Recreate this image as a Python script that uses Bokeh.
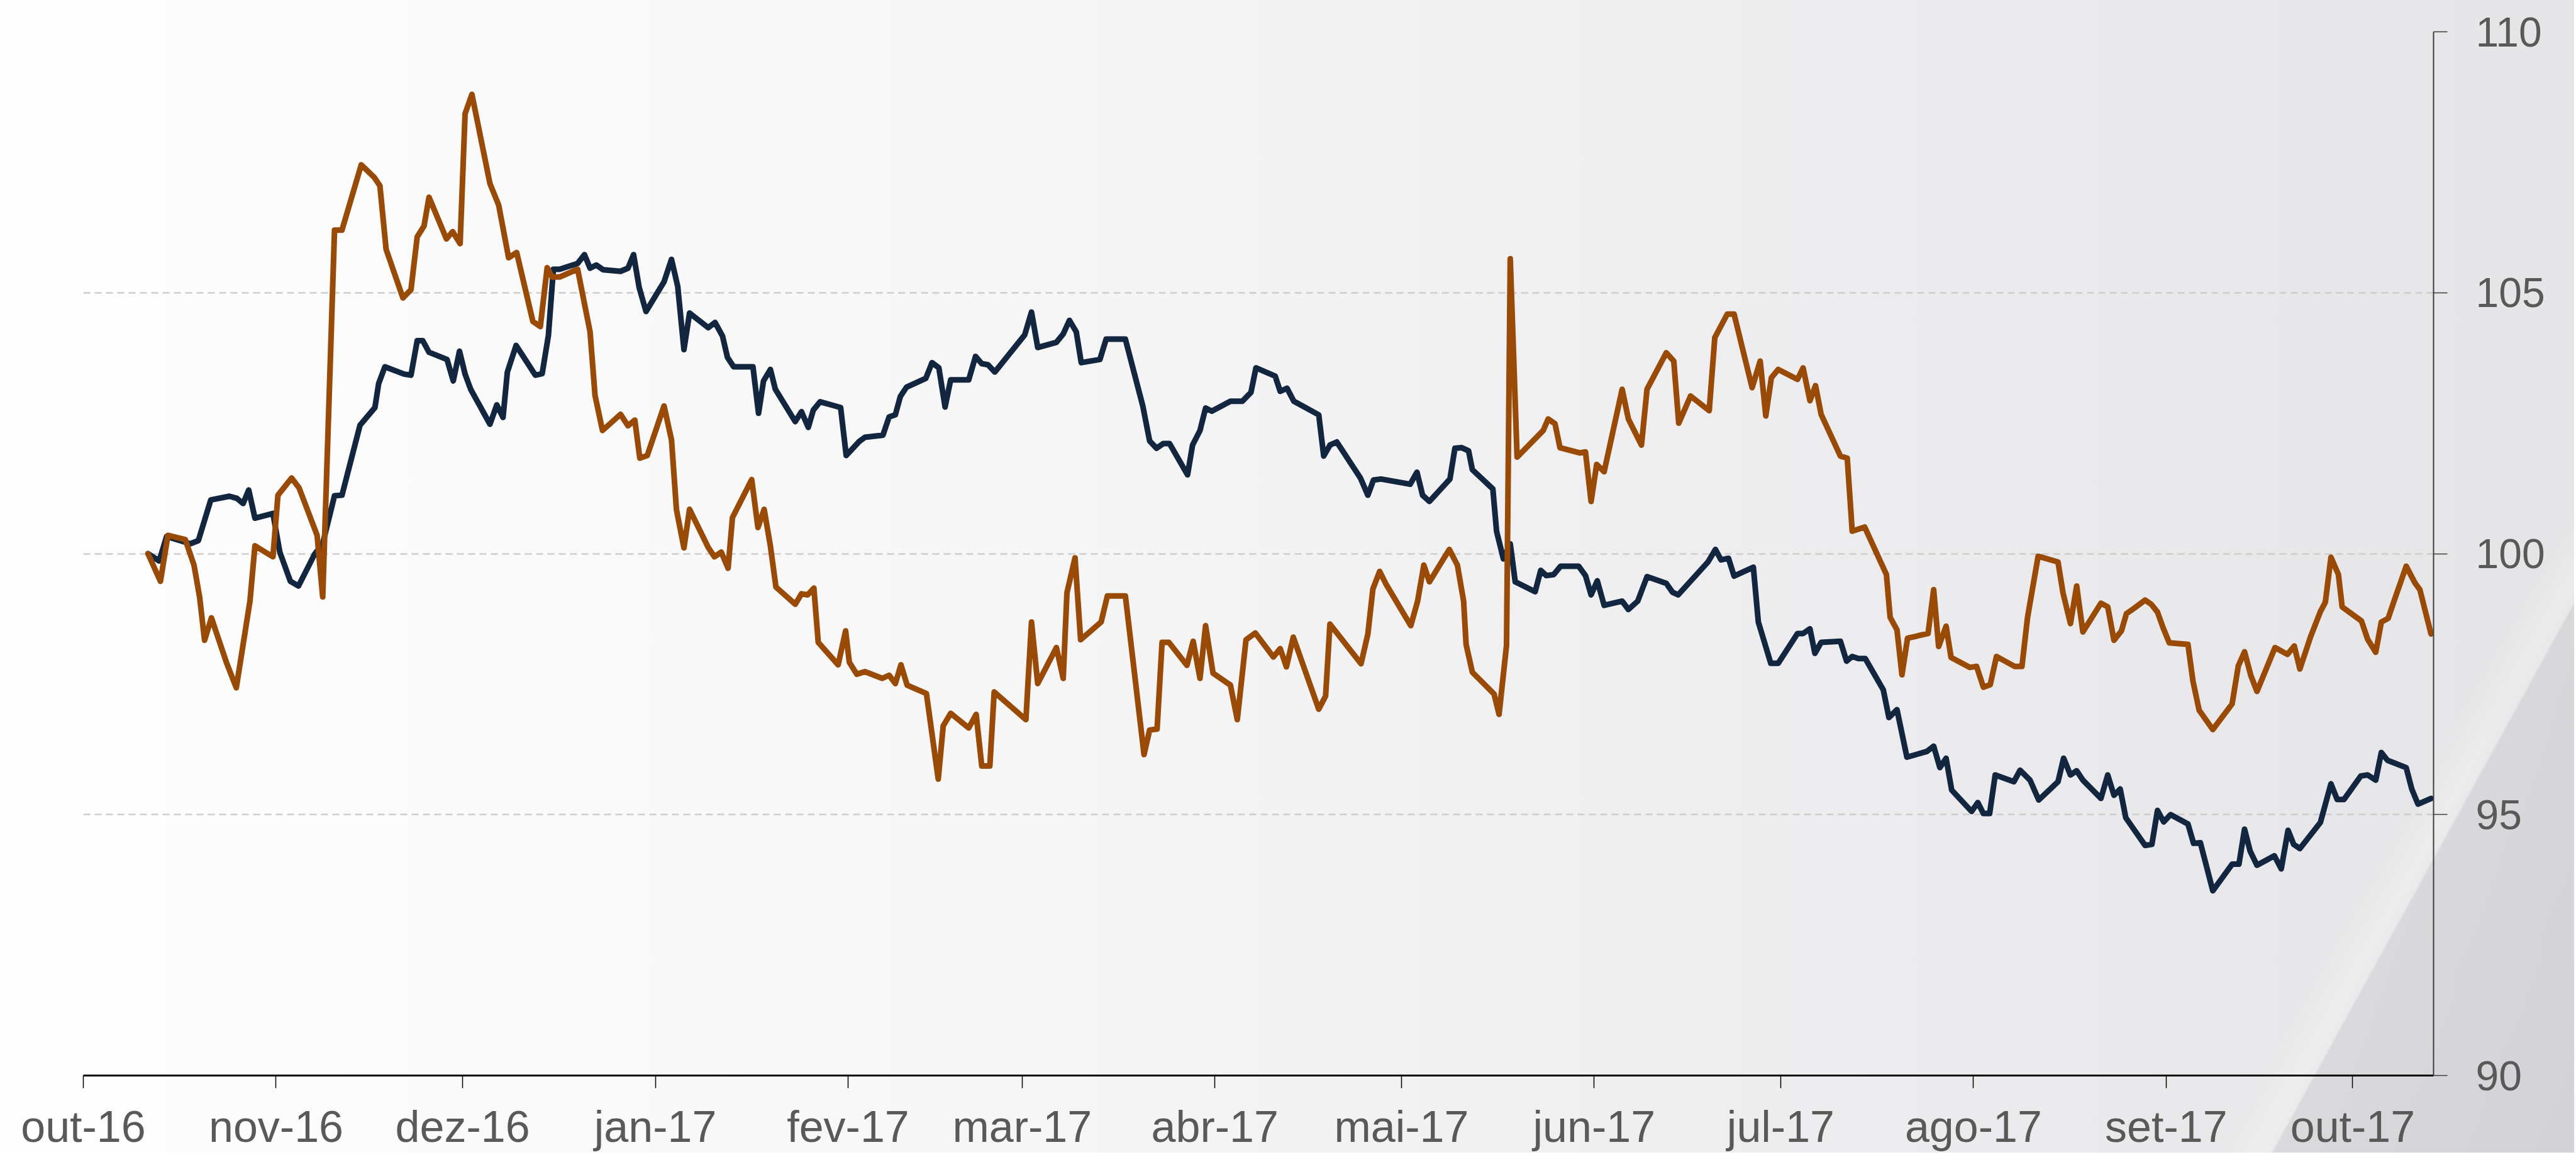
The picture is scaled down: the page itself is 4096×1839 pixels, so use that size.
import numpy as np
import pandas as pd
from bokeh.plotting import figure
from bokeh.models import Range1d, FixedTicker, ColumnDataSource
from bokeh.embed import file_html
from bokeh.resources import INLINE

# ---------------- data ----------------
BASE_DATE = "2016-10-01"   # day offsets below are counted from this date

month_starts = ["2016-10-01", "2016-11-01", "2016-12-01", "2017-01-01", "2017-02-01",
                "2017-03-01", "2017-04-01", "2017-05-01", "2017-06-01", "2017-07-01",
                "2017-08-01", "2017-09-01", "2017-10-01"]
month_labels = ["out-16", "nov-16", "dez-16", "jan-17", "fev-17", "mar-17", "abr-17",
                "mai-17", "jun-17", "jul-17", "ago-17", "set-17", "out-17"]
y_ticks = [90, 95, 100, 105, 110]

blue_days = [
    10.4, 12.2, 13.4, 17.2, 18.5, 20.5, 23.5, 24.7, 25.7, 26.6,
    27.6, 30.5, 31.6, 33.3, 34.6, 37.2, 38.5, 40.4, 41.6, 44.5,
    46.9, 47.5, 48.5, 51.6, 52.7, 53.7, 54.6, 55.6, 58.5, 59.5,
    60.5, 61.4, 62.3, 65.4, 66.5, 67.5, 68.2, 69.6, 72.7, 73.8,
    74.8, 75.6, 76.6, 79.5, 80.6, 81.5, 82.5, 83.6, 86.4, 87.6,
    88.5, 89.4, 90.5, 93.4, 94.6, 95.6, 96.6, 97.5, 100.5, 101.6,
    102.8, 103.6, 104.6, 107.7, 108.6, 109.4, 110.5, 111.3, 114.5, 115.5,
    116.6, 117.4, 118.5, 121.8, 122.7, 124.8, 125.7, 128.6, 129.6, 130.6,
    131.4, 132.4, 135.5, 136.5, 137.6, 138.6, 139.5, 142.4, 143.5, 144.5,
    145.5, 146.6, 151.4, 152.5, 153.5, 156.5, 157.6, 158.6, 159.7, 160.5,
    163.5, 164.5, 167.6, 170.4, 171.5, 172.6, 173.7, 174.7, 177.6, 178.4,
    179.6, 180.5, 181.5, 184.5, 186.4, 187.8, 188.6, 191.7, 192.5, 193.6,
    194.7, 198.7, 199.5, 200.5, 201.6, 205.4, 206.6, 207.5, 208.7, 213.4,
    214.5, 215.4, 216.5, 219.8, 220.6, 221.7, 222.8, 223.4, 226.7, 227.3,
    228.4, 229.5, 230.3, 233.5, 234.4, 235.3, 236.5, 237.6, 240.5, 241.6,
    242.5, 243.5, 244.6, 247.5, 248.5, 250.0, 251.5, 254.6, 255.6, 256.5,
    261.3, 262.5, 263.4, 264.6, 265.5, 268.6, 269.4, 271.4, 272.6, 275.7,
    276.6, 277.7, 278.5, 279.5, 282.6, 283.6, 284.5, 285.5, 286.6, 289.5,
    290.4, 291.7, 293.3, 296.5, 297.6, 298.6, 299.6, 300.5, 303.7, 304.7,
    305.6, 306.6, 307.5, 310.5, 311.5, 313.1, 314.5, 317.6, 318.5, 319.6,
    320.6, 321.6, 324.5, 325.6, 326.6, 327.6, 328.5, 331.6, 332.7, 333.6,
    334.6, 335.7, 338.5, 339.4, 340.5, 342.5, 345.6, 346.7, 347.6, 348.5,
    349.6, 352.4, 353.5, 354.6, 355.5, 356.5, 359.8, 361.5, 362.5, 363.6,
    366.3, 367.4, 368.7, 369.6, 370.6, 373.6, 374.5, 375.5, 377.6,
]
blue_values = [
    100.0, 99.86, 100.33, 100.19, 100.25, 101.03, 101.1, 101.06, 100.96, 101.22,
    100.68, 100.77, 100.03, 99.47, 99.38, 99.99, 100.19, 101.11, 101.12, 102.46,
    102.8, 103.26, 103.58, 103.44, 103.42, 104.08, 104.08, 103.86, 103.72, 103.31,
    103.88, 103.44, 103.15, 102.48, 102.85, 102.61, 103.48, 103.99, 103.42, 103.45,
    104.18, 105.45, 105.45, 105.56, 105.73, 105.47, 105.53, 105.44, 105.41, 105.47,
    105.73, 105.1, 104.64, 105.21, 105.64, 105.12, 103.91, 104.61, 104.33, 104.43,
    104.17, 103.76, 103.58, 103.58, 102.69, 103.31, 103.53, 103.15, 102.53, 102.72,
    102.42, 102.75, 102.91, 102.8, 101.88, 102.15, 102.23, 102.27, 102.62, 102.66,
    103.01, 103.19, 103.36, 103.66, 103.56, 102.81, 103.33, 103.33, 103.78, 103.64,
    103.62, 103.48, 104.19, 104.63, 103.95, 104.05, 104.21, 104.47, 104.25, 103.66,
    103.72, 104.11, 104.11, 102.83, 102.16, 102.02, 102.11, 102.11, 101.51, 102.08,
    102.36, 102.79, 102.73, 102.92, 102.92, 103.09, 103.56, 103.4, 103.11, 103.17,
    102.92, 102.66, 101.87, 102.08, 102.14, 101.45, 101.12, 101.41, 101.43, 101.33,
    101.56, 101.12, 101.0, 101.43, 102.02, 102.03, 101.97, 101.61, 101.24, 100.43,
    99.9, 100.19, 99.46, 99.27, 99.68, 99.58, 99.6, 99.76, 99.76, 99.58,
    99.21, 99.48, 99.01, 99.09, 98.93, 99.09, 99.56, 99.43, 99.26, 99.21,
    99.84, 100.08, 99.88, 99.91, 99.57, 99.74, 98.69, 97.9, 97.9, 98.47,
    98.47, 98.56, 98.09, 98.3, 98.32, 97.94, 98.03, 97.99, 97.99, 97.39,
    96.86, 97.01, 96.1, 96.21, 96.31, 95.9, 96.08, 95.47, 95.06, 95.23,
    95.02, 95.02, 95.76, 95.63, 95.85, 95.66, 95.28, 95.63, 96.08, 95.76,
    95.84, 95.66, 95.31, 95.76, 95.37, 95.49, 94.94, 94.41, 94.43, 95.08,
    94.86, 95.0, 94.82, 94.45, 94.46, 93.54, 94.05, 94.05, 94.72, 94.3,
    94.03, 94.21, 93.96, 94.7, 94.43, 94.35, 94.85, 95.59, 95.29, 95.29,
    95.74, 95.76, 95.66, 96.19, 96.04, 95.9, 95.49, 95.2, 95.31,
]

orange_days = [
    10.4, 12.4, 13.6, 16.4, 17.8, 18.7, 19.5, 20.6, 23.0, 24.6,
    26.8, 27.6, 30.5, 31.3, 33.5, 34.7, 37.6, 38.5, 40.4, 41.6,
    44.7, 46.8, 47.7, 48.7, 51.4, 52.7, 53.7, 54.8, 55.6, 58.4,
    59.4, 60.6, 61.4, 62.5, 65.4, 66.8, 68.4, 69.7, 72.3, 73.5,
    74.6, 75.4, 76.6, 79.5, 81.5, 82.3, 83.5, 86.4, 87.6, 88.7,
    89.5, 90.7, 93.4, 94.6, 95.4, 96.6, 97.5, 100.5, 101.5, 102.6,
    103.7, 104.4, 107.5, 108.5, 109.5, 110.5, 111.4, 114.5, 115.5, 116.5,
    117.5, 118.2, 121.4, 122.6, 123.2, 124.4, 125.7, 128.5, 129.6, 130.6,
    131.5, 132.5, 135.6, 137.5, 138.3, 139.5, 142.4, 143.6, 144.5, 145.8,
    146.5, 151.6, 152.5, 153.5, 156.5, 157.6, 158.2, 159.5, 160.4, 163.7,
    164.7, 167.6, 170.6, 171.5, 172.7, 173.5, 174.6, 177.5, 178.5, 179.6,
    180.5, 181.7, 184.5, 185.6, 187.0, 188.5, 191.4, 192.5, 193.5, 194.6,
    198.7, 199.8, 200.5, 205.5, 206.6, 207.4, 208.5, 209.5, 213.5, 214.6,
    215.6, 216.5, 219.7, 221.0, 222.0, 222.4, 223.4, 226.9, 227.7, 228.9,
    229.5, 230.6, 234.8, 235.6, 236.7, 237.5, 240.7, 241.6, 242.5, 243.4,
    244.6, 247.5, 248.5, 250.6, 251.5, 254.6, 255.8, 256.6, 258.5, 261.5,
    262.4, 264.4, 265.5, 268.4, 269.7, 270.6, 271.5, 272.6, 275.7, 276.6,
    277.7, 278.6, 279.5, 282.6, 283.7, 284.5, 286.5, 290.0, 290.6, 291.7,
    292.5, 293.4, 296.7, 297.6, 298.4, 299.6, 300.4, 303.4, 304.5, 305.6,
    306.7, 307.7, 310.6, 311.8, 312.7, 314.4, 317.6, 318.4, 319.6, 320.6,
    321.6, 324.5, 325.6, 326.6, 327.8, 328.6, 329.8, 331.6, 332.6, 333.6,
    334.5, 335.5, 338.5, 339.3, 340.3, 342.5, 345.6, 346.6, 347.6, 348.6,
    349.6, 352.5, 354.5, 355.6, 356.5, 358.2, 359.8, 360.6, 361.5, 362.7,
    363.3, 366.4, 367.4, 368.7, 369.6, 370.7, 371.7, 373.6, 375.0, 375.8,
    377.6,
]
orange_values = [
    100.0, 99.47, 100.35, 100.27, 99.78, 99.17, 98.34, 98.77, 97.92, 97.43,
    99.09, 100.15, 99.94, 101.12, 101.45, 101.26, 100.35, 99.17, 106.2, 106.2,
    107.45, 107.21, 107.05, 105.83, 104.9, 105.06, 106.07, 106.28, 106.83, 106.03,
    106.17, 105.94, 108.43, 108.8, 107.09, 106.68, 105.67, 105.77, 104.45, 104.35,
    105.48, 105.3, 105.3, 105.45, 104.25, 103.03, 102.36, 102.67, 102.45, 102.56,
    101.83, 101.88, 102.83, 102.18, 100.84, 100.11, 100.85, 100.12, 99.94, 100.03,
    99.72, 100.69, 101.42, 100.5, 100.85, 100.15, 99.36, 99.03, 99.23, 99.21,
    99.34, 98.3, 97.87, 98.52, 97.92, 97.69, 97.74, 97.61, 97.67, 97.51,
    97.87, 97.48, 97.32, 95.68, 96.7, 96.94, 96.66, 96.92, 95.93, 95.93,
    97.35, 96.82, 98.69, 97.51, 98.2, 97.61, 99.25, 99.92, 98.35, 98.69,
    99.19, 99.19, 96.15, 96.62, 96.64, 98.3, 98.3, 97.86, 98.32, 97.61,
    98.62, 97.71, 97.48, 96.82, 98.35, 98.48, 98.02, 98.18, 97.83, 98.4,
    97.02, 97.27, 98.65, 97.89, 98.46, 99.32, 99.66, 99.42, 98.62, 99.09,
    99.78, 99.46, 100.08, 99.78, 99.09, 98.26, 97.73, 97.31, 96.92, 98.24,
    105.65, 101.85, 102.36, 102.58, 102.49, 102.03, 101.93, 101.95, 101.0, 101.71,
    101.57, 103.15, 102.58, 102.08, 103.15, 103.85, 103.69, 102.5, 103.02, 102.74,
    104.14, 104.59, 104.59, 103.18, 103.69, 102.64, 103.37, 103.53, 103.34, 103.56,
    102.93, 103.22, 102.67, 101.87, 101.83, 100.43, 100.51, 99.6, 98.78, 98.54,
    97.68, 98.38, 98.47, 99.31, 98.22, 98.61, 98.01, 97.82, 97.84, 97.44,
    97.49, 98.03, 97.84, 97.84, 98.78, 99.95, 99.84, 99.25, 98.66, 99.38,
    98.5, 99.05, 98.98, 98.34, 98.52, 98.85, 98.95, 99.11, 99.03, 98.88,
    98.58, 98.29, 98.26, 97.56, 97.0, 96.63, 97.12, 97.85, 98.12, 97.67,
    97.36, 98.2, 98.07, 98.23, 97.79, 98.4, 98.89, 99.07, 99.93, 99.6,
    98.98, 98.71, 98.36, 98.11, 98.69, 98.76, 99.11, 99.76, 99.44, 99.31,
    98.46,
]

assert len(blue_days) == len(blue_values)
assert len(orange_days) == len(orange_values)

# ---------------- build ----------------
base = pd.Timestamp(BASE_DATE)


def to_dates(days):
    return base + pd.to_timedelta(np.asarray(days, dtype=float), unit="D")


def to_ms(d):
    return int(pd.Timestamp(d).timestamp() * 1000)


blue_src = ColumnDataSource(dict(x=to_dates(blue_days), y=blue_values))
orange_src = ColumnDataSource(dict(x=to_dates(orange_days), y=orange_values))

tick_ms = [to_ms(d) for d in month_starts]

p = figure(
    x_axis_type="datetime",
    y_axis_location="right",
    frame_width=3737,
    frame_height=1659,
    min_border_left=132,
    min_border_right=224,
    min_border_top=50,
    min_border_bottom=120,
    output_backend="svg",
    toolbar_location=None,
    x_range=Range1d(start=base, end=base + pd.Timedelta(days=378)),
    y_range=Range1d(90, 110),
)

bg = ("linear-gradient(118.8deg, rgba(255,255,255,0) 3975px, rgba(255,255,255,0.25) 4030px, "
      "rgba(255,255,255,0.12) 4047px, rgba(140,140,150,0.15) 4050px, rgba(140,140,150,0.21) 4500px), "
      "linear-gradient(to right, #fefefe 0%, #f6f6f7 40%, #ededef 70%, #e5e5e7 100%)")
p.styles = {"background": bg}
p.background_fill_alpha = 0
p.border_fill_alpha = 0
p.outline_line_color = None

# x axis
xa = p.xaxis[0]
xa.ticker = FixedTicker(ticks=tick_ms)
xa.major_label_overrides = {t: lab for t, lab in zip(tick_ms, month_labels)}
xa.axis_line_color = "black"
xa.axis_line_width = 3
xa.major_tick_line_color = "black"
xa.major_tick_line_width = 1.5
xa.major_tick_in = 0
xa.major_tick_out = 20
xa.minor_tick_line_color = None
xa.major_label_text_font = "Liberation Sans"
xa.major_label_text_font_size = "70px"
xa.major_label_text_color = "#595959"
xa.major_label_standoff = 22

# y axis (right)
ya = p.yaxis[0]
ya.ticker = FixedTicker(ticks=y_ticks)
ya.axis_line_color = "#3c3c3c"
ya.axis_line_width = 2
ya.major_tick_line_color = "#3c3c3c"
ya.major_tick_line_width = 1.5
ya.major_tick_in = 0
ya.major_tick_out = 22
ya.minor_tick_line_color = None
ya.major_label_text_font = "Liberation Sans"
ya.major_label_text_font_size = "66px"
ya.major_label_text_color = "#595959"
ya.major_label_standoff = 45

# grid
p.xgrid.visible = False
p.ygrid.ticker = FixedTicker(ticks=y_ticks)
p.ygrid.grid_line_color = "#cdcdcd"
p.ygrid.grid_line_width = 2.4
p.ygrid.grid_line_dash = "11 7"

p.line("x", "y", source=blue_src, line_color="#12263f", line_width=9,
       line_join="round", line_cap="round")
p.line("x", "y", source=orange_src, line_color="#994a06", line_width=9,
       line_join="round", line_cap="round")

open("out.html", "w").write(file_html(p, INLINE))
